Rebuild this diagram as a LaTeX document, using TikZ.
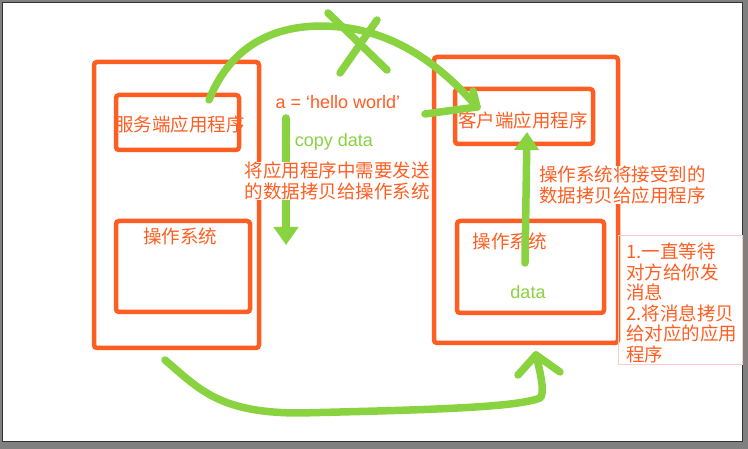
\documentclass[tikz,border=0pt]{standalone}
\usepackage{fontspec}
\setmainfont{Noto Sans CJK SC}
\newfontfamily\latinfont{Liberation Sans}
\usetikzlibrary{arrows.meta, positioning}
\definecolor{sketchorange}{RGB}{255,94,34}
\definecolor{sketchgreen}{RGB}{137,211,64}
\definecolor{notepink}{RGB}{250,205,200}
\definecolor{screengray}{RGB}{128,128,128}

\begin{document}
\begin{tikzpicture}[x=1pt, y=-1pt,
    hostbox/.style={draw=sketchorange, line width=4.5pt, rounded corners=3pt, inner sep=0pt},
    notebox/.style={draw=notepink, line width=0.8pt, inner sep=0pt},
    orangetext/.style={text=sketchorange, inner sep=0pt, font=\fontsize{18.5}{20.5}\selectfont},
    greentext/.style={text=sketchgreen, inner sep=0pt, font=\latinfont\fontsize{18}{20}\selectfont},
    greenline/.style={draw=sketchgreen, line width=7.5pt, line cap=round, line join=round},
    greenarrow/.style={greenline, -{Triangle[width=24pt, length=18pt]}}]
    % screen
    \fill[screengray] (0,0) rectangle (748,449);
    \draw[fill=white, draw=black!80, line width=1pt] (2.5,2.5) rectangle (742,441);
    \useasboundingbox (0,0) rectangle (748,449);

    % server side
    \node[hostbox, minimum width=165pt, minimum height=286pt] (serverhost) at (176.5,205) {};
    \node[hostbox, minimum width=123pt, minimum height=55pt] (serverapp) at (177.5,122.5) {};
    \node[orangetext] (serverapplabel) at (180,124) {服务端应用程序};
    \node[hostbox, minimum width=134pt, minimum height=91pt] (serveros) at (183,266.5) {};
    \node[orangetext] (serveroslabel) at (180,236) {操作系统};

    % client side
    \node[hostbox, minimum width=184pt, minimum height=286pt] (clienthost) at (526,200) {};
    \node[hostbox, minimum width=138pt, minimum height=55pt] (clientapp) at (524,116.5) {};
    \node[orangetext] (clientapplabel) at (523,120) {客户端应用程序};
    \node[hostbox, minimum width=147pt, minimum height=92pt] (clientos) at (530.5,267) {};
    \node[orangetext] (clientoslabel) at (509.5,241) {操作系统};
    \node[greentext] (clientdata) at (528,292) {data};

    % copy arrows
    \coordinate (copyfrom) at (286,118);
    \coordinate (copyto) at (286,245);
    \draw[greenarrow] (copyfrom) -- (copyto);
    \coordinate (deliverfrom) at (525,263);
    \coordinate (deliverto) at (527,132);
    \draw[greenarrow] (deliverfrom) -- (deliverto);

    % texts in between
    \node[orangetext, font=\latinfont\fontsize{18}{20}\selectfont] (message) at (338,102) {a = ‘hello world’};
    \node[greentext] (copydata) at (334,142) {copy data};
    \node[orangetext, fill=white, align=center] (sendtext) at (337,181) {将应用程序中需要发送\\的数据拷贝给操作系统};
    \node[orangetext, fill=white, align=left] (recvtext) at (622.5,185) {操作系统将接受到的\\数据拷贝给应用程序};

    % note
    \node[notebox, minimum width=124pt, minimum height=129pt, anchor=north west] (note) at (618,235) {};
    \node[orangetext, align=left, anchor=north west] (notetext) at (626,243)
        {1.一直等待\\对方给你发\\消息\\2.将消息拷贝\\给对应的应用\\程序};

    % direct path, crossed out
    \coordinate (directfrom) at (209,100);
    \coordinate (directtip) at (477,107);
    \draw[greenline] (directfrom) .. controls (235,35) and (290,22) .. (340,27)
        .. controls (400,33) and (445,70) .. (directtip);
    \draw[greenline] (directtip) -- ++(-4,-16);
    \draw[greenline] (425,114) -- (directtip);
    \draw[greenline] (328,13) -- (387,70);
    \draw[greenline] (377,20) -- (340,73);

    % path through the network
    \coordinate (netfrom) at (165,360);
    \coordinate (nettip) at (536,355);
    \draw[greenline] (netfrom) .. controls (200,390) and (220,413) .. (300,413)
        .. controls (420,410) and (515,408) .. (540,398)
        .. controls (545,394) and (541,375) .. (nettip);
    \draw[greenline] (nettip) -- (518,375);
    \draw[greenline] (nettip) -- (560,372);
\end{tikzpicture}
\end{document}
